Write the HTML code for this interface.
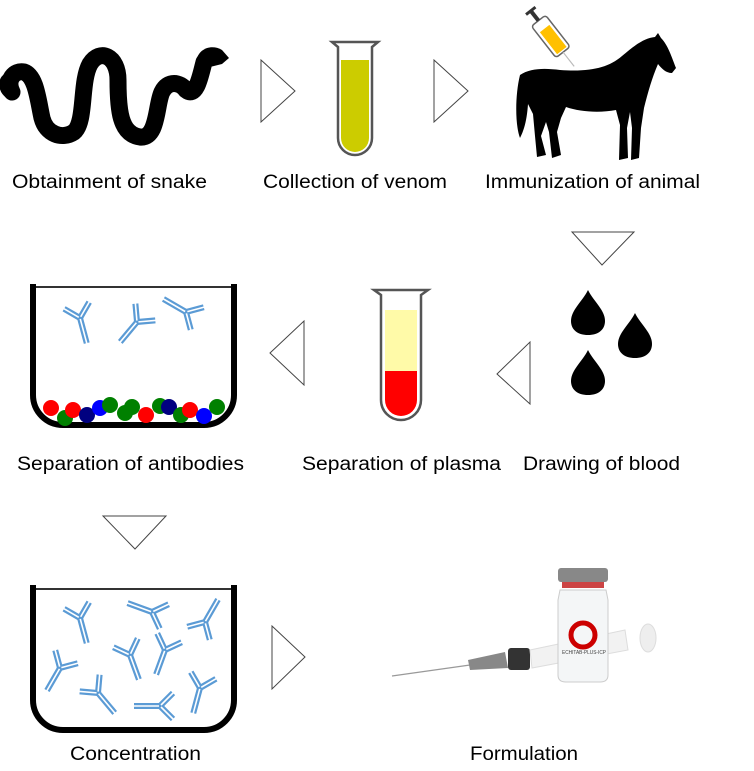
<!DOCTYPE html>
<html><head><meta charset="utf-8"><style>
html,body{margin:0;padding:0;background:#fff;}
svg{display:block;}
text{font-family:"Liberation Sans",Arial,sans-serif;font-size:19px;fill:#000;}
</style></head><body>
<svg width="754" height="771" viewBox="0 0 754 771" xmlns="http://www.w3.org/2000/svg">
<defs>
<g id="ab">
  <g stroke="#5b9bd5" stroke-width="6" fill="none" stroke-linecap="butt">
    <line x1="0" y1="0" x2="0" y2="26"/>
    <line x1="0" y1="0" x2="-13" y2="-13"/>
    <line x1="0" y1="0" x2="13" y2="-13"/>
  </g>
  <g stroke="#fff" stroke-width="1.6" fill="none">
    <line x1="0" y1="1" x2="0" y2="27"/>
    <line x1="-1" y1="-1" x2="-14" y2="-14"/>
    <line x1="1" y1="-1" x2="14" y2="-14"/>
  </g>
</g>
<path id="drop" d="M0,0 C6,12 17,20 17,31 C17,40 10,45 0,45 C-10,45 -17,40 -17,31 C-17,20 -6,12 0,0 Z"/>
</defs>

<!-- Snake -->
<path d="M12,92 C6,80 14,70 24,72 C36,76 38,100 42,118 C46,134 62,140 74,132 C86,122 80,82 90,64 C100,48 118,56 118,80 C118,110 120,134 140,137 C158,139 156,104 162,92 C168,80 180,82 186,90 C196,98 200,78 204,62" fill="none" stroke="#000" stroke-width="17" stroke-linecap="round"/>
<path d="M196,62 C198,48 212,44 222,50 L229,58 L222,64 L206,68 Z" fill="#000"/>
<path d="M8,96 C0,90 0,80 6,76" fill="none" stroke="#000" stroke-width="5" stroke-linecap="round"/>

<!-- arrows row1 -->
<polygon points="261,60 295,91 261,122" fill="#fff" stroke="#444" stroke-width="1"/>
<polygon points="434,60 468,91 434,122" fill="#fff" stroke="#444" stroke-width="1"/>

<!-- Tube 1 -->
<path d="M332,42 L378,42 L372,47 L372,138 A17,17 0 0 1 338,138 L338,47 Z" fill="#fff" stroke="#555" stroke-width="2.5"/>
<path d="M341,60 L369,60 L369,138 A14,14 0 0 1 341,138 Z" fill="#cccc00"/>

<!-- Syringe -->
<g transform="translate(552,38) rotate(-38)">
  <rect x="-9" y="-22" width="18" height="40" rx="3" fill="#fff" stroke="#666" stroke-width="1.5"/>
  <rect x="-6" y="-12" width="12" height="28" fill="#ffc000"/>
  <rect x="-2" y="-34" width="4" height="12" fill="#333"/>
  <rect x="-6" y="-36" width="12" height="3" fill="#333"/>
  <line x1="0" y1="18" x2="0" y2="36" stroke="#bbb" stroke-width="1.2"/>
</g>

<!-- Horse -->
<path d="M520,75 C530,68 545,68 560,70 C590,72 608,68 622,56 C636,44 645,38 655,37 L658,33 L661,38 C668,45 672,58 676,68 L672,73 C666,73 662,69 658,64 C652,78 648,92 644,108 L641,128 L639,158 L631,160 L632,128 L630,112 L627,128 L628,158 L619,160 L620,125 L616,110 C600,113 580,112 566,107 L561,118 L557,132 L561,155 L552,158 L549,132 L546,122 L541,136 L546,155 L537,157 L535,136 L533,114 L528,104 C527,118 525,128 520,138 C515,125 515,95 520,75 Z" fill="#000"/>

<text x="12" y="188" textLength="195" lengthAdjust="spacingAndGlyphs">Obtainment of snake</text>
<text x="263" y="188" textLength="184" lengthAdjust="spacingAndGlyphs">Collection of venom</text>
<text x="485" y="188" textLength="215" lengthAdjust="spacingAndGlyphs">Immunization of animal</text>

<!-- row 2 -->
<polygon points="572,232 634,232 602,265" fill="#fff" stroke="#444" stroke-width="1"/>
<use href="#drop" x="588" y="290"/>
<use href="#drop" x="635" y="313"/>
<use href="#drop" x="588" y="350"/>
<polygon points="497,374 530,342 530,404" fill="#fff" stroke="#444" stroke-width="1"/>

<path d="M374,290 L428,290 L421,295 L421,400 A20,20 0 0 1 381,400 L381,295 Z" fill="#fff" stroke="#555" stroke-width="2.5"/>
<rect x="385" y="310" width="32" height="61" fill="#fffaa8"/>
<path d="M385,371 L417,371 L417,400 A16,16 0 0 1 385,400 Z" fill="#ff0000"/>

<polygon points="270,353 304,321 304,385" fill="#fff" stroke="#444" stroke-width="1"/>

<!-- Beaker 1 -->
<line x1="33" y1="287" x2="234" y2="287" stroke="#333" stroke-width="2"/>
<path d="M33,284 L33,395 A30,30 0 0 0 63,425 L204,425 A30,30 0 0 0 234,395 L234,284" fill="none" stroke="#000" stroke-width="6"/>
<use href="#ab" transform="translate(80,318) rotate(-15)"/>
<use href="#ab" transform="translate(137,322) rotate(40)"/>
<use href="#ab" transform="translate(186,312) rotate(120)"/>
<g>
<circle cx="65" cy="418" r="8" fill="#008000"/>
<circle cx="51" cy="408" r="8" fill="#ff0000"/>
<circle cx="73" cy="410" r="8" fill="#ff0000"/>
<circle cx="87" cy="415" r="8" fill="#000080"/>
<circle cx="100" cy="408" r="8" fill="#0000ff"/>
<circle cx="110" cy="405" r="8" fill="#008000"/>
<circle cx="125" cy="413" r="8" fill="#008000"/>
<circle cx="132" cy="407" r="8" fill="#008000"/>
<circle cx="146" cy="415" r="8" fill="#ff0000"/>
<circle cx="160" cy="406" r="8" fill="#008000"/>
<circle cx="169" cy="407" r="8" fill="#000080"/>
<circle cx="181" cy="415" r="8" fill="#008000"/>
<circle cx="190" cy="410" r="8" fill="#ff0000"/>
<circle cx="204" cy="416" r="8" fill="#0000ff"/>
<circle cx="217" cy="407" r="8" fill="#008000"/>
</g>

<text x="17" y="470" textLength="227" lengthAdjust="spacingAndGlyphs">Separation of antibodies</text>
<text x="302" y="470" textLength="199" lengthAdjust="spacingAndGlyphs">Separation of plasma</text>
<text x="523" y="470" textLength="157" lengthAdjust="spacingAndGlyphs">Drawing of blood</text>

<!-- row 3 -->
<polygon points="103,516 166,516 135,549" fill="#fff" stroke="#444" stroke-width="1"/>

<line x1="33" y1="589" x2="234" y2="589" stroke="#333" stroke-width="2"/>
<path d="M33,585 L33,700 A30,30 0 0 0 63,730 L204,730 A30,30 0 0 0 234,700 L234,585" fill="none" stroke="#000" stroke-width="6"/>
<use href="#ab" transform="translate(80,618) rotate(-15)"/>
<use href="#ab" transform="translate(152,612) rotate(110)"/>
<use href="#ab" transform="translate(205,622) rotate(210)"/>
<use href="#ab" transform="translate(130,655) rotate(-20)"/>
<use href="#ab" transform="translate(165,650) rotate(20)"/>
<use href="#ab" transform="translate(60,668) rotate(30)"/>
<use href="#ab" transform="translate(98,693) rotate(-40)"/>
<use href="#ab" transform="translate(160,706) rotate(90)"/>
<use href="#ab" transform="translate(200,688) rotate(15)"/>

<polygon points="272,626 305,657 272,689" fill="#fff" stroke="#444" stroke-width="1"/>

<!-- Vial and syringe -->
<g>
  <line x1="392" y1="676" x2="470" y2="665" stroke="#999" stroke-width="1.2"/>
  <path d="M468,660 L505,652 L508,668 L470,670 Z" fill="#888"/>
  <rect x="508" y="648" width="22" height="22" rx="3" fill="#333"/>
  <path d="M530,650 L625,630 L628,650 L532,668 Z" fill="#f2f2f2" stroke="#ddd"/>
  <ellipse cx="648" cy="638" rx="8" ry="14" fill="#eee" stroke="#ddd"/>
  <rect x="558" y="568" width="50" height="14" rx="3" fill="#888"/>
  <rect x="562" y="582" width="42" height="6" fill="#c44"/>
  <path d="M560,590 L606,590 L608,600 L608,675 Q608,682 600,682 L566,682 Q558,682 558,675 L558,600 Z" fill="#f4f6f7" stroke="#ccc"/>
  <circle cx="583" cy="635" r="12" fill="none" stroke="#c00" stroke-width="5"/>
  <text x="562" y="654" style="font-size:5px;fill:#444" textLength="44" lengthAdjust="spacingAndGlyphs">ECHITAB-PLUS-ICP</text>
</g>

<text x="70" y="760" textLength="131" lengthAdjust="spacingAndGlyphs">Concentration</text>
<text x="470" y="760" textLength="108" lengthAdjust="spacingAndGlyphs">Formulation</text>
</svg>
</body></html>
